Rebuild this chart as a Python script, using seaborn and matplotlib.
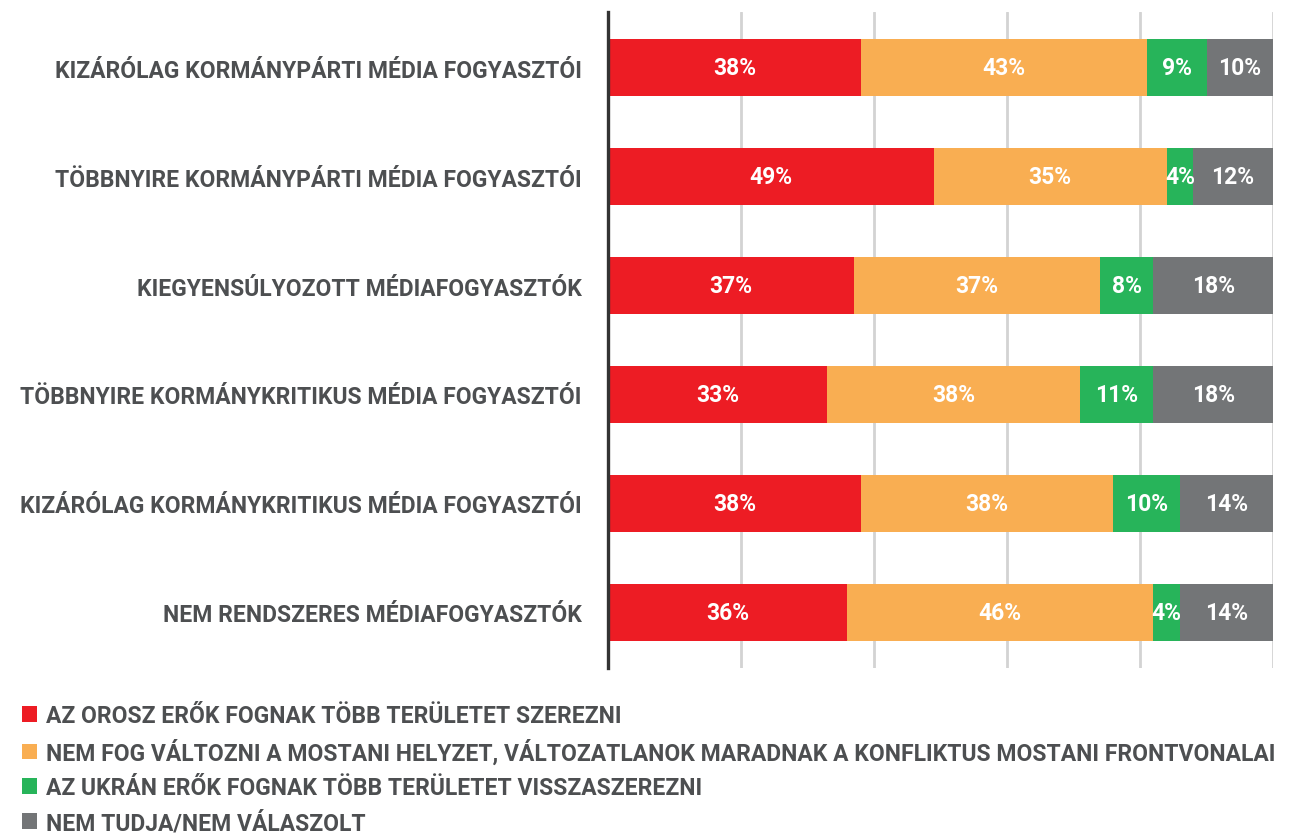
import matplotlib
matplotlib.use("Agg")
import matplotlib.pyplot as plt
import seaborn as sns
import pandas as pd
import numpy as np

categories = [
    "KIZÁRÓLAG KORMÁNYPÁRTI MÉDIA FOGYASZTÓI",
    "TÖBBNYIRE KORMÁNYPÁRTI MÉDIA FOGYASZTÓI",
    "KIEGYENSÚLYOZOTT MÉDIAFOGYASZTÓK",
    "TÖBBNYIRE KORMÁNYKRITIKUS MÉDIA FOGYASZTÓI",
    "KIZÁRÓLAG KORMÁNYKRITIKUS MÉDIA FOGYASZTÓI",
    "NEM RENDSZERES MÉDIAFOGYASZTÓK",
]
series_names = [
    "AZ OROSZ ERŐK FOGNAK TÖBB TERÜLETET SZEREZNI",
    "NEM FOG VÁLTOZNI A MOSTANI HELYZET, VÁLTOZATLANOK MARADNAK A KONFLIKTUS MOSTANI FRONTVONALAI",
    "AZ UKRÁN ERŐK FOGNAK TÖBB TERÜLETET VISSZASZEREZNI",
    "NEM TUDJA/NEM VÁLASZOLT",
]
russian = [38, 49, 37, 33, 38, 36]
unchanged = [43, 35, 37, 38, 38, 46]
ukrainian = [9, 4, 8, 11, 10, 4]
dont_know = [10, 12, 18, 18, 14, 14]

colors = ["#ED1C24", "#F9AE52", "#27B45A", "#737577"]
text_color = "#4D4F51"
fs = 16.5

sns.set_theme(style="white")
plt.rcParams["font.family"] = ["Roboto", "DejaVu Sans"]
plt.rcParams["font.weight"] = "bold"

values = np.array([russian, unchanged, ukrainian, dont_know], dtype=float)
cumulative = values.cumsum(axis=0)

fig = plt.figure(figsize=(12.9, 8.37), dpi=100)
ax = fig.add_axes([608 / 1290, 1 - 669 / 837, 665 / 1290, 656 / 837])

# stacked bars: draw cumulative totals from the outermost segment inward
for i in reversed(range(len(series_names))):
    df = pd.DataFrame({"category": categories, "value": cumulative[i]})
    sns.barplot(data=df, x="value", y="category", orient="h", color=colors[i],
                width=0.53, saturation=1, ax=ax, label=series_names[i],
                linewidth=0, zorder=3)

# value labels centred in each segment
for i in range(len(series_names)):
    starts = cumulative[i] - values[i]
    for j, v in enumerate(values[i]):
        ax.text(starts[j] + v / 2, j, f"{int(v)}%", ha="center", va="center",
                color="white", fontsize=fs, fontweight="bold", zorder=5)

ax.set_xlim(0, 100)
ax.set_ylim(5.51, -0.51)
ax.set_xticks(np.arange(0, 101, 20))
ax.xaxis.grid(True, color="#D3D3D3", linewidth=2)
ax.set_axisbelow(True)
ax.tick_params(axis="x", length=0, labelbottom=False)
ax.tick_params(axis="y", length=0, pad=19, labelsize=fs, labelcolor=text_color)
for lbl in ax.get_yticklabels():
    lbl.set_fontweight("bold")
ax.set_xlabel("")
ax.set_ylabel("")
for s in ["top", "right", "bottom"]:
    ax.spines[s].set_visible(False)
ax.spines["left"].set_color("#333333")
ax.spines["left"].set_linewidth(2.4)
ax.spines["left"].set_zorder(6)

handles, labels = ax.get_legend_handles_labels()
order = [labels.index(n) for n in series_names]
if ax.legend_:
    ax.legend_.remove()
fig.legend([handles[k] for k in order], series_names, loc="upper left",
           bbox_to_anchor=(22 / 1290, 1 - 705 / 837), frameon=False,
           prop={"size": fs, "weight": "bold"}, labelcolor=text_color,
           handlelength=0.65, handleheight=0.65, handletextpad=0.4,
           labelspacing=0.5, borderaxespad=0, borderpad=0)

fig.savefig("out.png", dpi=100)
